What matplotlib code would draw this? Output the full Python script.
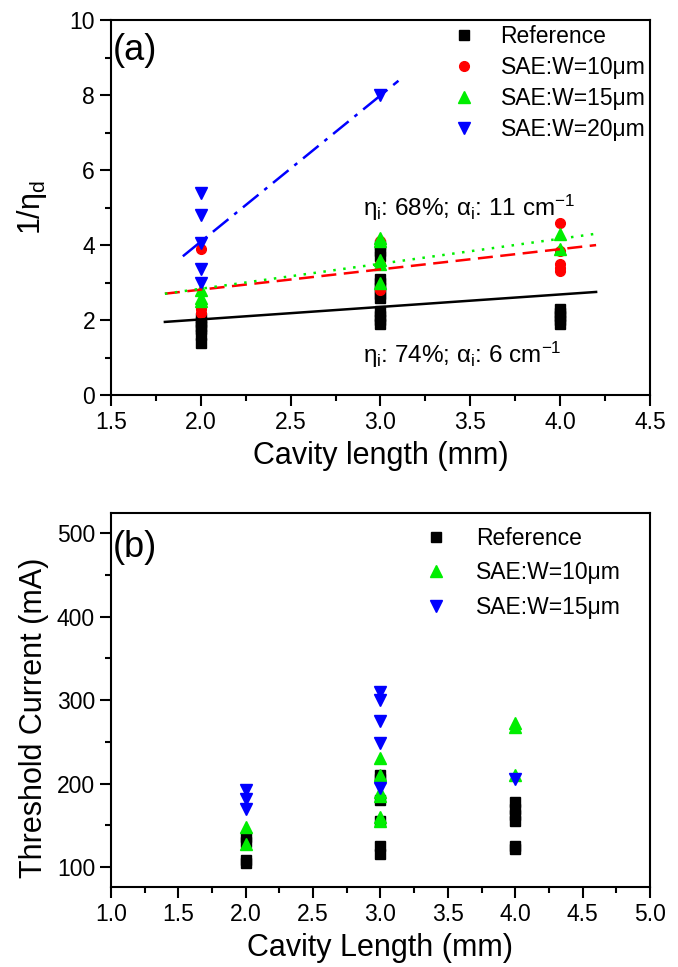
import numpy as np
import matplotlib
matplotlib.use("Agg")
import matplotlib.pyplot as plt
from matplotlib.ticker import MultipleLocator

plt.rcParams['font.family'] = ['Liberation Sans', 'DejaVu Sans']
plt.rcParams['mathtext.fontset'] = 'custom'
plt.rcParams['mathtext.rm'] = 'Liberation Sans'
plt.rcParams['mathtext.it'] = 'Liberation Sans'

# panel (a): 1/eta_d vs cavity length
ref_a_x = [2, 2, 2, 2, 2, 2, 3, 3, 3, 3, 3, 3, 3, 3, 3, 3, 3, 3, 4, 4, 4, 4, 4]
ref_a_y = [2.05, 1.95, 1.85, 1.75, 1.6, 1.4,
           4.0, 3.85, 3.7, 3.1, 3.0, 2.85, 2.7, 2.6, 2.25, 2.1, 2.0, 1.9,
           2.3, 2.2, 2.1, 2.0, 1.9]
w10_a_x = [2, 2, 2, 2, 3, 3, 3, 4, 4, 4, 4, 4]
w10_a_y = [3.9, 2.4, 2.3, 2.2, 4.1, 3.5, 2.8, 4.6, 3.85, 3.5, 3.4, 3.3]
w15_a_x = [2, 2, 2, 3, 3, 3, 3, 3, 4, 4]
w15_a_y = [2.8, 2.6, 2.5, 4.2, 4.1, 3.6, 3.5, 3.0, 4.3, 3.9]
w20_a_x = [2, 2, 2, 2, 2, 3]
w20_a_y = [5.4, 4.8, 4.05, 3.35, 3.0, 8.0]

# linear fits (slope, intercept, x range)
fit_ref = (0.333, 1.35, [1.8, 4.2])
fit_w10 = (0.54, 1.73, [1.8, 4.2])
fit_w15 = (0.667, 1.5, [1.8, 4.2])
fit_w20 = (3.9, -3.71, [1.9, 3.1])

# panel (b): threshold current vs cavity length
ref_b_x = [2, 2, 2, 2, 3, 3, 3, 3, 3, 3, 4, 4, 4, 4, 4, 4]
ref_b_y = [136, 130, 108, 105, 210, 205, 180, 155, 125, 115,
           178, 170, 162, 155, 125, 122]
w10_b_x = [2, 2, 3, 3, 3, 3, 3, 3, 4, 4, 4]
w10_b_y = [148, 128, 230, 210, 190, 185, 160, 155, 273, 268, 210]
w15_b_x = [2, 2, 2, 3, 3, 3, 3, 3, 4]
w15_b_y = [192, 182, 170, 310, 300, 275, 248, 195, 205]

fig = plt.figure(figsize=(6.78, 9.67), dpi=100)
ax1 = fig.add_axes([0.1637, 0.5915, 0.795, 0.3878])
ax2 = fig.add_axes([0.1637, 0.0827, 0.795, 0.3868])

ms = 7
green = '#00ee00'
ax1.plot(ref_a_x, ref_a_y, 's', color='black', ms=ms, label='Reference')
ax1.plot(w10_a_x, w10_a_y, 'o', color='red', ms=ms, label='SAE:W=10μm')
ax1.plot(w15_a_x, w15_a_y, '^', color=green, ms=ms + 1, label='SAE:W=15μm')
ax1.plot(w20_a_x, w20_a_y, 'v', color='blue', ms=ms + 1, label='SAE:W=20μm')

for (k, b, xr), c, ls in [(fit_ref, 'black', '-'), (fit_w10, 'red', (0, (6, 3))),
                         (fit_w15, green, (0, (1, 3))),
                         (fit_w20, 'blue', (0, (8, 3, 1.5, 3)))]:
    xx = np.array(xr)
    ax1.plot(xx, k * xx + b, color=c, ls=ls, lw=1.8)

ax1.text(2.9, 5.0, r'$\eta_i$: 68%; $\alpha_i$: 11 cm$^{-1}$', fontsize=17.5, va='center')
ax1.text(2.9, 1.07, r'$\eta_i$: 74%; $\alpha_i$: 6 cm$^{-1}$', fontsize=17.5, va='center')
ax1.text(1.512, 9.2, '(a)', fontsize=26, va='center')

ax1.set_xlim(1.5, 4.5)
ax1.set_ylim(0, 10)
ax1.xaxis.set_major_locator(MultipleLocator(0.5))
ax1.xaxis.set_minor_locator(MultipleLocator(0.25))
ax1.yaxis.set_major_locator(MultipleLocator(2))
ax1.yaxis.set_minor_locator(MultipleLocator(1))
ax1.set_xlabel('Cavity length (mm)', fontsize=22, labelpad=5)
ax1.set_ylabel(r'1/$\eta_d$', fontsize=22)
ax1.yaxis.set_label_coords(-0.115, 0.5)
ax1.legend(loc='upper right', frameon=False, fontsize=16.5, handlelength=1.0,
           handletextpad=1.1, labelspacing=0.36, borderaxespad=0, borderpad=0.2,
           bbox_to_anchor=(1.0, 1.0))

ax2.plot(ref_b_x, ref_b_y, 's', color='black', ms=ms, label='Reference')
ax2.plot(w10_b_x, w10_b_y, '^', color=green, ms=ms + 1, label='SAE:W=10μm')
ax2.plot(w15_b_x, w15_b_y, 'v', color='blue', ms=ms + 1, label='SAE:W=15μm')
ax2.text(1.015, 483, '(b)', fontsize=26, va='center')

ax2.set_xlim(1.0, 5.0)
ax2.set_ylim(76, 524)
ax2.xaxis.set_major_locator(MultipleLocator(0.5))
ax2.xaxis.set_minor_locator(MultipleLocator(0.25))
ax2.yaxis.set_major_locator(MultipleLocator(100))
ax2.yaxis.set_minor_locator(MultipleLocator(50))
ax2.set_xlabel('Cavity Length (mm)', fontsize=22, labelpad=5)
ax2.set_ylabel('Threshold Current (mA)', fontsize=22)
ax2.yaxis.set_label_coords(-0.115, 0.452)
ax2.legend(loc='upper right', frameon=False, fontsize=16.5, handlelength=1.0,
           handletextpad=1.25, labelspacing=0.5, borderaxespad=0, borderpad=0.2,
           bbox_to_anchor=(0.955, 0.975))

for ax in (ax1, ax2):
    for s in ax.spines.values():
        s.set_linewidth(1.5)
    ax.tick_params(which='major', direction='out', length=8, width=1.5, labelsize=16.5)
    ax.tick_params(which='minor', direction='out', length=4.5, width=1.5)

fig.savefig('out.png', dpi=100)
